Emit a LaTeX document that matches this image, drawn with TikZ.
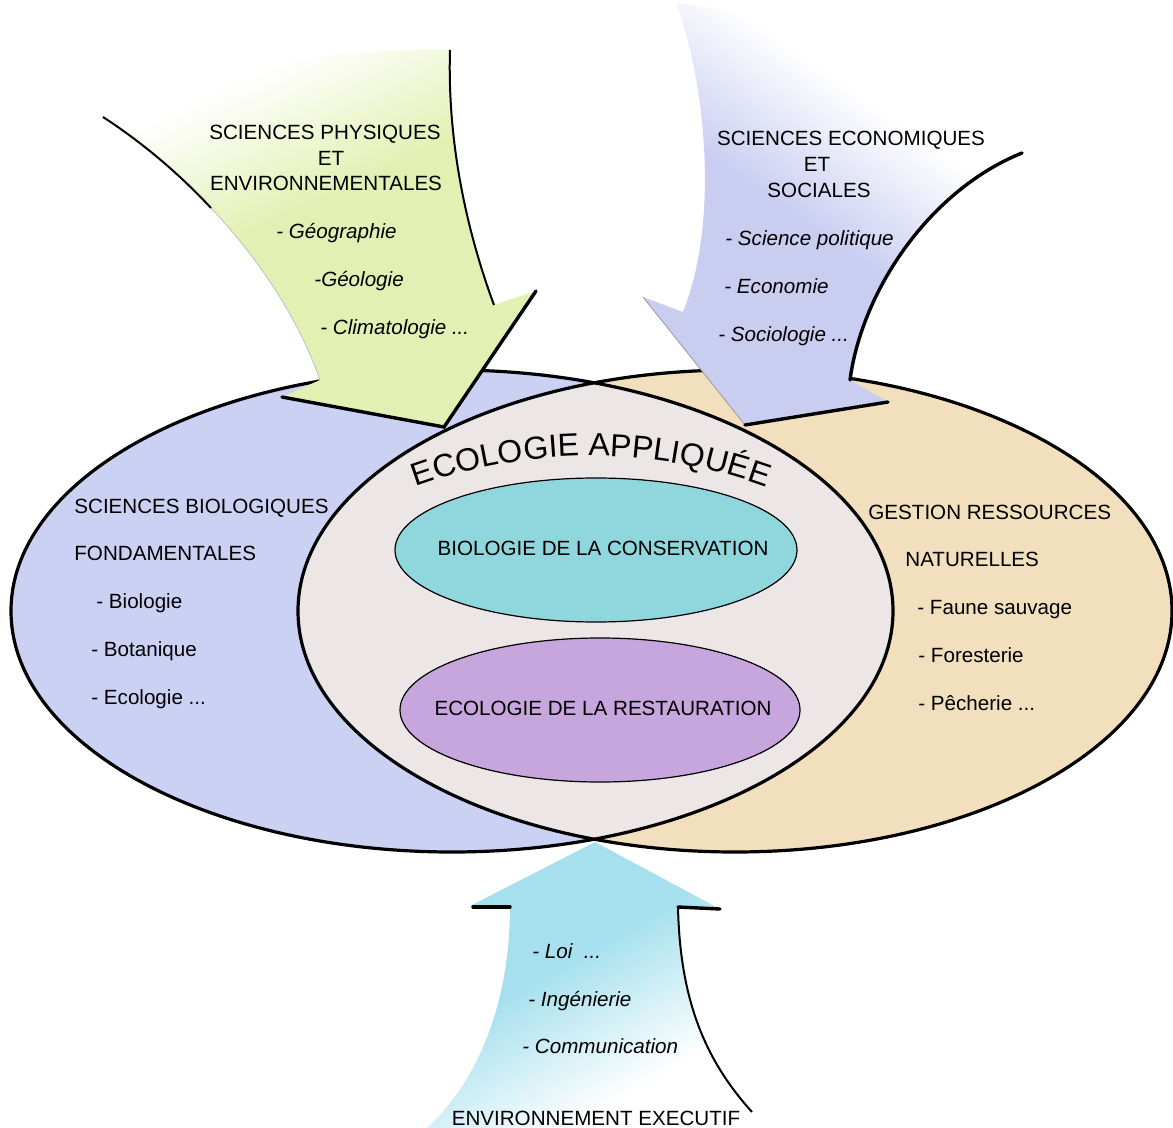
\documentclass[tikz,border=0pt]{standalone}
\usepackage{fontspec}
\setmainfont{Liberation Sans}
\usepackage{tikz}
\usetikzlibrary{decorations.text}
\definecolor{bioblue}{RGB}{203,209,243}
\definecolor{gestan}{RGB}{242,223,189}
\definecolor{lensgray}{RGB}{236,230,230}
\definecolor{conscyan}{RGB}{143,215,221}
\definecolor{restpurple}{RGB}{199,166,222}
\definecolor{physgreen}{RGB}{227,240,179}
\definecolor{ecoblue}{RGB}{201,206,241}
\definecolor{execcyan}{RGB}{166,224,238}
\pgfdeclareverticalshading{greenfade}{100bp}{color(0bp)=(physgreen); color(54bp)=(physgreen); color(72bp)=(white); color(100bp)=(white)}
\pgfdeclareverticalshading{bluefade}{100bp}{color(0bp)=(ecoblue); color(47bp)=(ecoblue); color(64bp)=(white); color(100bp)=(white)}
\pgfdeclareverticalshading{cyanfade}{100bp}{color(0bp)=(white); color(33bp)=(white); color(56bp)=(execcyan); color(100bp)=(execcyan)}
\tikzset{set label/.style={inner sep=0,font=\fontsize{10.3}{12}\selectfont},
  set item/.style={inner sep=0,font=\fontsize{10.3}{12}\selectfont\itshape},
  head edge/.style={line width=1.7pt,line cap=round},
  shaft edge/.style={line width=1pt}}
\def\fs{\fontsize{16}{16}\selectfont}

\begin{document}
\begin{tikzpicture}[x=0.5pt,y=-0.5pt]
      \path[use as bounding box] (0,0) rectangle (1173,1128);
      \clip (0,0) rectangle (1173,1128);

      %左右のベン図
      \fill[bioblue] (452,611) ellipse [x radius=441,y radius=241];
      \fill[gestan] (735,611) ellipse [x radius=437,y radius=241];
      \begin{scope}
        \clip (452,611) ellipse [x radius=441,y radius=241];
        \fill[lensgray] (735,611) ellipse [x radius=437,y radius=241];
      \end{scope}
      \draw[line width=1.6pt] (452,611) ellipse [x radius=441,y radius=241];
      \draw[line width=1.6pt] (735,611) ellipse [x radius=437,y radius=241];

      %左上の矢印
      \shade[shading=greenfade, shading angle=25] (103,117) .. controls (141.8,142.2) and (178.7,173.3) .. (211,208)
        .. controls (260,260) and (299,320) .. (320,380) -- (282,397) -- (444,427) -- (536,291) -- (494,305)
        .. controls (470,240) and (447,150) .. (450,50) .. controls (350,45) and (200,70) .. cycle;
      \draw[black!25, line width=0.4pt] (211,208) .. controls (260,260) and (299,320) .. (320,380);
      \draw[shaft edge] (103,117) .. controls (141.8,142.2) and (178.7,173.3) .. (211,208);
      \draw[shaft edge] (494,305) .. controls (470,240) and (447,150) .. (450,50);
      \draw[head edge] (282,397) -- (444,427) -- (536,291);

      %右上の矢印
      \shade[shading=bluefade, shading angle=-35] (676,3) .. controls (705,80) and (720,220) .. (683,312) -- (643,297)
        -- (745,425) -- (888,402) -- (850,380) .. controls (862,290) and (930,190) .. (1022,153)
        .. controls (900,60) and (750,10) .. cycle;
      \draw[black!40, line width=0.4pt] (643,297) -- (745,425);
      \draw[head edge] (745,425) -- (888,402);
      \draw[head edge] (850,380) .. controls (862,290) and (930,190) .. (1022,153);

      %下の矢印
      \shade[shading=cyanfade, shading angle=30] (595,842) -- (720,909) -- (678,907)
        .. controls (680,1000) and (705,1060) .. (752,1112) -- (770,1140) -- (415,1140) -- (425,1130)
        .. controls (480,1080) and (510,1000) .. (510,906) -- (470,906) -- cycle;
      \draw[head edge] (473,907) -- (510,907);
      \draw[head edge] (678,907) -- (720,909);
      \draw[shaft edge] (678,907) .. controls (680,1000) and (705,1060) .. (752,1112);

      %中の楕円
      \draw[fill=conscyan, line width=0.6pt] (596,550) ellipse [x radius=201,y radius=72];
      \draw[fill=restpurple, line width=0.6pt] (600,710) ellipse [x radius=200,y radius=72];
      \node[set label, anchor=base] (cons) at (603,555.5) {BIOLOGIE DE LA CONSERVATION};
      \node[set label, anchor=base] (rest) at (603,715.5) {ECOLOGIE DE LA RESTAURATION};

      %タイトル
      \path[decorate, decoration={text along path, text align=center, text={|\fs|ECOLOGIE APPLIQUÉE}}]
        (591,967) ++(-110.4:511) arc [start angle=-110.4, end angle=-69.6, radius=511];

      %左上
      \node[set label, anchor=base] (phys1) at (325,139.5) {SCIENCES PHYSIQUES};
      \node[set label, anchor=base] (phys2) at (331,165.5) {ET};
      \node[set label, anchor=base] (phys3) at (326,190.5) {ENVIRONNEMENTALES};
      \node[set item, anchor=base west] (geo1) at (276,238.5) {- Géographie};
      \node[set item, anchor=base west] (geo2) at (314,286.5) {-Géologie};
      \node[set item, anchor=base west] (geo3) at (320,334.5) {- Climatologie ...};

      %右上
      \node[set label, anchor=base] (eco1) at (851,145.5) {SCIENCES ECONOMIQUES};
      \node[set label, anchor=base] (eco2) at (817,171.5) {ET};
      \node[set label, anchor=base] (eco3) at (819,197.5) {SOCIALES};
      \node[set item, anchor=base west] (soc1) at (725,245.5) {- Science politique};
      \node[set item, anchor=base west] (soc2) at (724,293.5) {- Economie};
      \node[set item, anchor=base west] (soc3) at (718,341.5) {- Sociologie ...};

      %左
      \node[set label, anchor=base west] (bio1) at (74,513.5) {SCIENCES BIOLOGIQUES};
      \node[set label, anchor=base west] (bio2) at (74,560.5) {FONDAMENTALES};
      \node[set label, anchor=base west] (bio3) at (96,608.5) {- Biologie};
      \node[set label, anchor=base west] (bio4) at (91,656.5) {- Botanique};
      \node[set label, anchor=base west] (bio5) at (91,704.5) {- Ecologie ...};

      %右
      \node[set label, anchor=base west] (ges1) at (868,519.5) {GESTION RESSOURCES};
      \node[set label, anchor=base west] (ges2) at (905,566.5) {NATURELLES};
      \node[set label, anchor=base west] (ges3) at (917,614.5) {- Faune sauvage};
      \node[set label, anchor=base west] (ges4) at (918,662.5) {- Foresterie};
      \node[set label, anchor=base west] (ges5) at (918,710.5) {- Pêcherie ...};

      %下
      \node[set item, anchor=base west] (exe1) at (532,958.5) {- Loi \ ...};
      \node[set item, anchor=base west] (exe2) at (528,1006.5) {- Ingénierie};
      \node[set item, anchor=base west] (exe3) at (522,1053.5) {- Communication};
      \node[set label, anchor=base] (exe4) at (596,1125) {ENVIRONNEMENT EXECUTIF};

    \end{tikzpicture}
\end{document}
